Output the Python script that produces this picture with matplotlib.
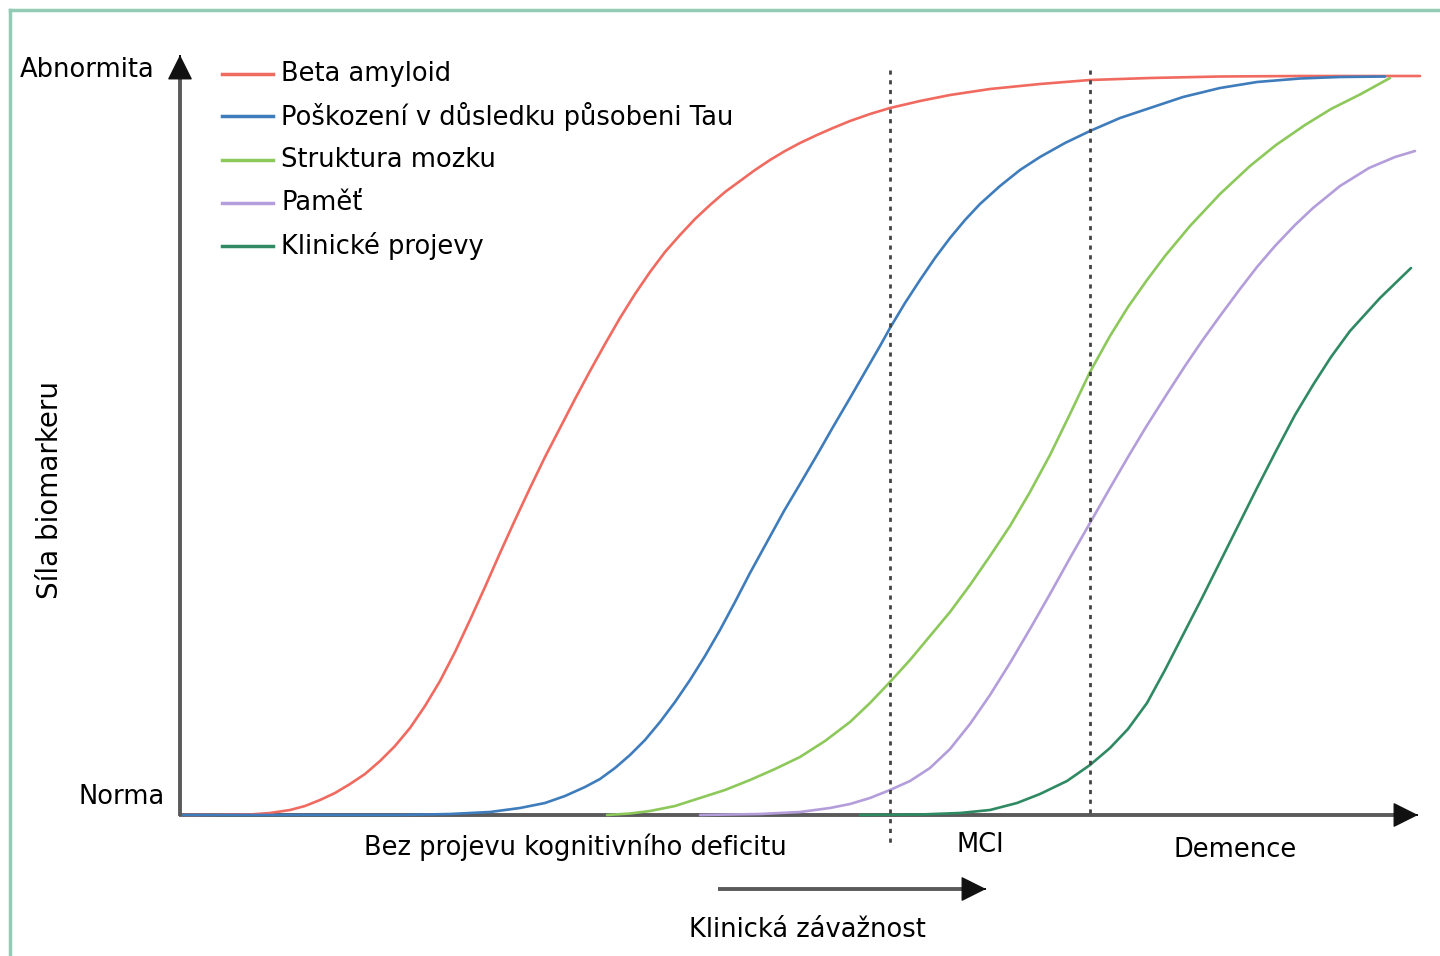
import matplotlib
matplotlib.use("Agg")
import matplotlib.pyplot as plt

# jednotky grafu: x = vzdalenost od osy y, y = vyska nad osou x
labels = ["Beta amyloid", "Poškození v důsledku působeni Tau", "Struktura mozku", "Paměť", "Klinické projevy"]
colors = ["#f06a60", "#3f7cbc", "#8cc85a", "#b39ddb", "#2f8a64"]

beta_x = [0, 70, 90, 110, 125, 140, 155, 170, 185, 200, 215, 230, 245, 260, 275, 290, 305, 320, 335, 350,
          365, 380, 395, 410, 425, 440, 455, 470, 485, 500, 515, 530, 545, 560, 575, 590, 605, 620, 637, 653,
          670, 690, 710, 740, 770, 810, 860, 910, 970, 1040, 1120, 1240]
beta_y = [0, 0.5, 2, 5, 9, 15, 22, 31, 41, 54, 69, 87, 109, 134, 163, 195, 228, 262, 295, 327,
          358, 387, 416, 444, 471, 497, 521, 543, 563, 580, 596, 610, 623, 634, 645, 655, 664, 672, 680, 687,
          694, 701, 707, 714, 720, 726, 731, 735, 737, 738.5, 739, 739]

tau_x = [0, 220, 270, 310, 340, 365, 385, 405, 420, 435, 450, 465, 480, 495, 510, 525, 540, 555, 570, 587,
         604, 620, 637, 653, 670, 685, 700, 710, 725, 740, 755, 770, 785, 800, 820, 840, 860, 885, 910, 940,
         970, 1003, 1040, 1077, 1120, 1160, 1205]
tau_y = [0, 0, 1, 3, 7, 12, 19, 28, 36, 47, 60, 75, 93, 113, 135, 159, 185, 213, 242, 273,
         304, 331, 360, 388, 417, 443, 469, 487, 512, 535, 557, 577, 595, 611, 629, 645, 658, 672, 684, 697,
         707, 718, 727, 733, 736.5, 738, 738.5]

struktura_x = [427, 450, 470, 495, 520, 545, 570, 595, 620, 645, 670, 690, 710, 730, 750, 770, 790, 810,
               830, 850, 870, 890, 910, 930, 948, 967, 985, 1010, 1040, 1070, 1096, 1125, 1151, 1180, 1210]
struktura_y = [0, 1.5, 4, 9, 17, 25, 35, 46, 58, 74, 93, 112, 133, 155, 179, 203, 230, 259,
               289, 323, 360, 401, 443, 479, 508, 535, 559, 589, 621, 649, 670, 690, 706, 720.5, 737]

pamet_x = [520, 580, 620, 650, 670, 690, 710, 730, 750, 770, 790, 810, 830, 850, 870, 890, 910, 930, 948,
           966, 985, 1005, 1022, 1040, 1060, 1077, 1095, 1115, 1133, 1160, 1189, 1215, 1235]
pamet_y = [0, 1, 3, 7, 11, 17, 25, 34, 47, 66, 91, 120, 152, 186, 221, 257, 292, 327, 358,
           388, 418, 449, 474, 499, 526, 548, 569, 590, 607, 629, 647, 658, 664]

klinika_x = [680, 740, 780, 810, 837, 860, 887, 910, 930, 948, 967, 985, 1005, 1022, 1040, 1059, 1077,
             1096, 1115, 1133, 1151, 1170, 1200, 1231]
klinika_y = [0, 0.5, 2, 5, 12, 21, 34, 50, 67, 86, 112, 145, 184, 217, 253, 291, 327,
             364, 400, 430, 458, 484, 517, 547]

curves = [(beta_x, beta_y), (tau_x, tau_y), (struktura_x, struktura_y), (pamet_x, pamet_y), (klinika_x, klinika_y)]

stage_lines = [710, 910]
stage_labels = ["Bez projevu kognitivního deficitu", "MCI", "Demence"]
stage_label_x = [395, 800, 1055]

fig = plt.figure(figsize=(14.4, 9.56), dpi=100)
ax = fig.add_axes([0, 0, 1, 1])
ax.set_xlim(-180, 1260)
ax.set_ylim(-141, 815)
ax.axis("off")

# ramecek
border = "#93ccb4"
ax.plot([-170, 1260], [805, 805], color=border, lw=2.5, clip_on=False)
ax.plot([-170, -170], [805, -141], color=border, lw=2.5, clip_on=False)

for (xs, ys), c in zip(curves, colors):
    ax.plot(xs, ys, color=c, lw=1.9, solid_capstyle="round", solid_joinstyle="round", zorder=3)

# sipky: seda cara + cerna hlavicka
head = dict(arrowstyle="-|>,head_length=1.6,head_width=0.8", lw=1,
            shrinkA=0, shrinkB=0, fc="#111111", ec="#111111")
axis_grey = "#5a5a5a"


def arrow(x0, y0, x1, y1, z=4):
    dx, dy = x1 - x0, y1 - y0
    n = (dx ** 2 + dy ** 2) ** 0.5
    ux, uy = dx / n, dy / n
    ax.plot([x0, x1 - 12 * ux], [y0, y1 - 12 * uy], color=axis_grey, lw=2.8, zorder=z, solid_capstyle="butt")
    ax.annotate("", xy=(x1, y1), xytext=(x1 - ux, y1 - uy), arrowprops=head, zorder=z + 1)


arrow(0, -1, 0, 760)
arrow(-1, 0, 1238, 0, z=2)

# hranice stadii
ax.plot([stage_lines[0], stage_lines[0]], [745, -30], color="#444444", lw=2, ls=(0, (1.5, 2)), zorder=5)
ax.plot([stage_lines[1], stage_lines[1]], [745, -2], color="#444444", lw=2, ls=(0, (1.5, 2)), zorder=5)

fs = 18.5
ax.text(-25, 745, "Abnormita", ha="right", va="center", fontsize=fs)
ax.text(-15, 18, "Norma", ha="right", va="center", fontsize=fs)
ax.text(-130, 325, "Síla biomarkeru", ha="center", va="center", rotation=90, fontsize=20)

# legenda
leg_y = [741, 699, 655, 612, 569]
for lab, c, yy in zip(labels, colors, leg_y):
    ax.plot([42, 93], [yy, yy], color=c, lw=2.5)
    ax.text(101, yy, lab, ha="left", va="center", fontsize=fs)

for lab, xx, yy in zip(stage_labels, stage_label_x, [-32, -30, -35]):
    ax.text(xx, yy, lab, ha="center", va="center", fontsize=fs)

arrow(538, -74, 806, -74)
ax.text(627, -115, "Klinická závažnost", ha="center", va="center", fontsize=fs)

fig.savefig("out.png", dpi=100)
